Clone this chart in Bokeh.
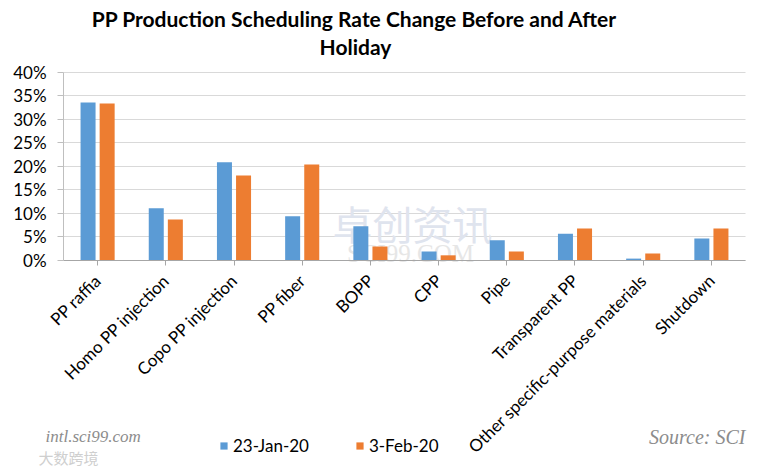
from math import pi
from bokeh.plotting import figure
from bokeh.models import (ColumnDataSource, Label, Legend, LegendItem, Range1d,
                          NumeralTickFormatter, FixedTicker)
from bokeh.transform import dodge
from bokeh.embed import file_html
from bokeh.resources import INLINE

categories = ["PP raffia", "Homo PP injection", "Copo PP injection", "PP fiber", "BOPP",
              "CPP", "Pipe", "Transparent PP", "Other specific-purpose materials", "Shutdown"]
jan23 = [0.336, 0.111, 0.209, 0.094, 0.073, 0.019, 0.043, 0.057, 0.004, 0.047]
feb3 = [0.334, 0.087, 0.181, 0.204, 0.030, 0.011, 0.019, 0.068, 0.015, 0.068]
series_names = ["23-Jan-20", "3-Feb-20"]
y_ticks = [0, 0.05, 0.10, 0.15, 0.20, 0.25, 0.30, 0.35, 0.40]

BLUE = "#5b9bd5"
ORANGE = "#ed7d31"
FONT = "Lato"

pos = [i + 0.5 for i in range(len(categories))]
src = ColumnDataSource(dict(pos=pos, a=jan23, b=feb3))

W, H = 760, 468
p = figure(width=W, height=H, x_range=Range1d(-0.9238, 10.22), y_range=Range1d(-0.4426, 0.5532),
           output_backend="svg", toolbar_location=None,
           min_border_left=0, min_border_right=0, min_border_top=0, min_border_bottom=0)
p.outline_line_color = None
p.background_fill_color = "white"

r1 = p.vbar(x=dodge("pos", -0.14), top="a", width=0.22, source=src,
            fill_color=BLUE, line_color=None)
r2 = p.vbar(x=dodge("pos", 0.14), top="b", width=0.22, source=src,
            fill_color=ORANGE, line_color=None)

# y axis
yax = p.yaxis[0]
yax.fixed_location = 0
yax.bounds = (0, 0.4)
yax.ticker = FixedTicker(ticks=y_ticks)
yax.formatter = NumeralTickFormatter(format="0%")
yax.major_label_text_font = FONT
yax.major_label_text_font_size = "17px"
yax.major_label_text_color = "#000000"
yax.axis_line_color = "#bfbfbf"
yax.major_tick_line_color = "#bfbfbf"
yax.major_tick_in = 0
yax.major_tick_out = 6
yax.minor_tick_line_color = None
yax.major_label_standoff = 11

# x axis
xax = p.xaxis[0]
xax.fixed_location = 0
xax.bounds = (0, 10)
xax.ticker = FixedTicker(ticks=pos)
xax.major_label_overrides = {pp: c for pp, c in zip(pos, categories)}
xax.major_label_orientation = pi / 4
xax.major_label_text_font = FONT
xax.major_label_text_font_size = "17px"
xax.major_label_text_color = "#000000"
xax.axis_line_color = "#a6a6a6"
xax.major_tick_line_color = "#a6a6a6"
xax.major_tick_in = 0
xax.major_tick_out = 5
xax.minor_tick_line_color = None
xax.major_label_standoff = 12

p.xgrid.grid_line_color = None
yg = p.ygrid[0]
yg.ticker = FixedTicker(ticks=y_ticks)
yg.grid_line_color = "#d9d9d9"
yg.bounds = (0, 0.4)
if "cross_bounds" in yg.properties():
    yg.cross_bounds = (0, 10)
else:
    yg.grid_line_color = None
    p.segment(x0=0, x1=10, y0=y_ticks, y1=y_ticks, line_color="#d9d9d9", level="underlay")


def lab(px, py, text, **kw):
    # px, py: pixel offsets from the canvas top-left
    p.add_layout(Label(x=px, y=H - py, x_units="screen", y_units="screen", text=text, **kw))


# watermark
lab(412, 222, "卓创资讯", text_font="Noto Sans CJK SC", text_font_size="40px",
    text_color="#dfe4ee", text_align="center", text_baseline="middle", level="underlay")
lab(410, 253, "SCI99.COM", text_font="Liberation Serif", text_font_size="25px",
    text_color="#e6e6e6", text_align="center", text_baseline="middle", level="underlay")

# title
lab(354, 18, "PP Production Scheduling Rate Change Before and After", text_font=FONT,
    text_font_style="bold", text_font_size="21px", text_color="#000000",
    text_align="center", text_baseline="middle")
lab(355, 46, "Holiday", text_font=FONT, text_font_style="bold", text_font_size="21px",
    text_color="#000000", text_align="center", text_baseline="middle")

# footer
lab(45, 436, "intl.sci99.com", text_font="Liberation Serif", text_font_style="italic",
    text_font_size="17px", text_color="#8c8c8c", text_align="left", text_baseline="middle")
lab(745, 436, "Source: SCI", text_font="Liberation Serif", text_font_style="italic",
    text_font_size="20px", text_color="#8c8c8c", text_align="right", text_baseline="middle")
lab(38, 457, "大数跨境", text_font="Noto Sans CJK SC", text_font_size="15px",
    text_color="#cfcfcf", text_align="left", text_baseline="middle")

legend = Legend(items=[LegendItem(label=series_names[0], renderers=[r1]),
                       LegendItem(label=series_names[1], renderers=[r2])],
                location=(219, 12), orientation="horizontal",
                glyph_width=9, glyph_height=9, label_standoff=5, spacing=46,
                padding=0, margin=0, border_line_color=None, background_fill_alpha=0,
                label_text_font=FONT, label_text_font_size="17px", label_text_color="#000000")
p.add_layout(legend, "center")

open("out.html", "w").write(file_html(p, INLINE))
